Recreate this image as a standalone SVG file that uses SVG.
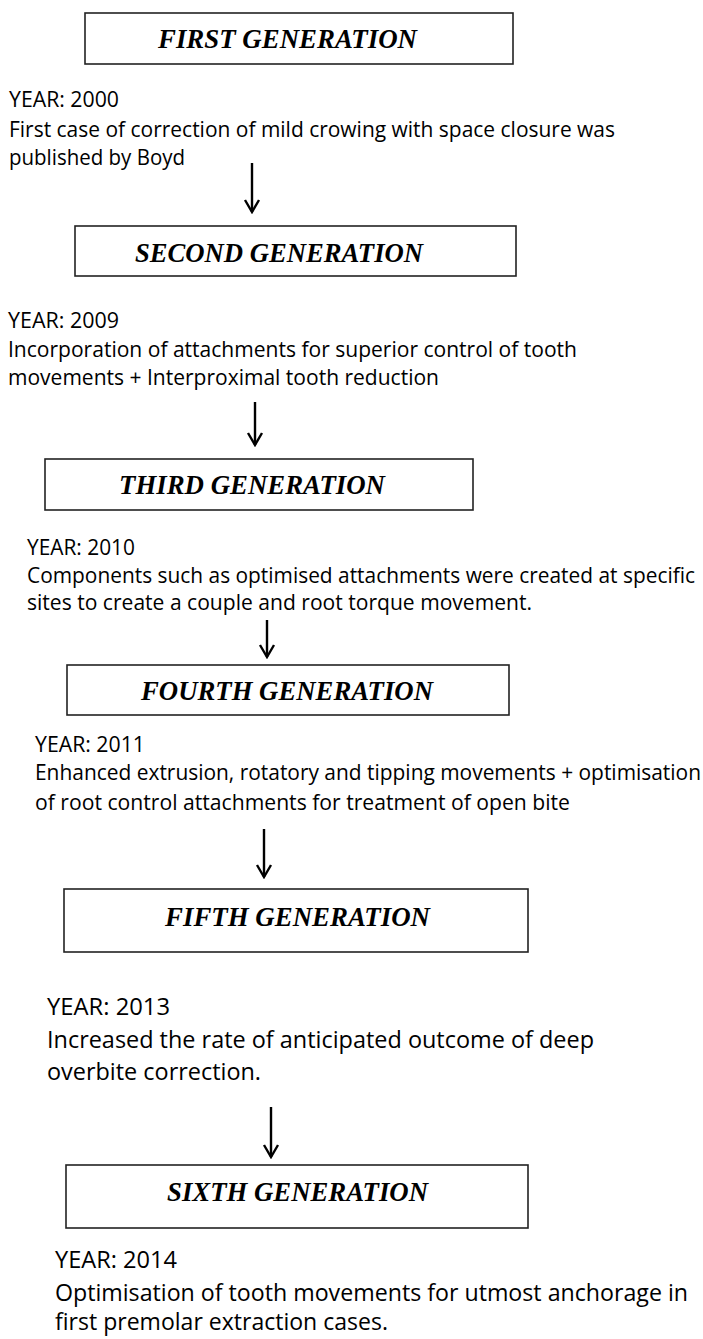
<svg xmlns="http://www.w3.org/2000/svg" width="703" height="1339" viewBox="0 0 703 1339">
<style>
.box{fill:#fff;stroke:#222;stroke-width:1.6}
.title{font-family:"Liberation Serif","Times New Roman",serif;font-weight:bold;font-style:italic;font-size:27px;fill:#000}
.body{font-family:"Open Sans","Noto Sans",sans-serif;font-size:21px;fill:#000}
.body2{font-family:"Open Sans","Noto Sans",sans-serif;font-size:23px;fill:#000}
.conn{stroke:#000;stroke-width:2.4;fill:none}
</style>
<defs>
<marker id="arr" viewBox="-2 -2 16 18" refX="12" refY="7" markerWidth="16" markerHeight="18" markerUnits="userSpaceOnUse" orient="auto">
<path d="M0,0 L12,7 L0,14" fill="none" stroke="#000" stroke-width="2.4"/>
</marker>
</defs>
<rect width="703" height="1339" fill="#fff"/>

<g id="gen1">
<rect class="box" x="85" y="13" width="428" height="51"/>
<text class="title" x="158" y="48" textLength="259" lengthAdjust="spacingAndGlyphs">FIRST GENERATION</text>
</g>
<g id="desc1">
<text class="body" x="9" y="107" textLength="110" lengthAdjust="spacingAndGlyphs">YEAR: 2000</text>
<text class="body" x="9" y="137" textLength="606" lengthAdjust="spacingAndGlyphs">First case of correction of mild crowing with space closure was</text>
<text class="body" x="9" y="165" textLength="176" lengthAdjust="spacingAndGlyphs">published by Boyd</text>
</g>

<g id="gen2">
<rect class="box" x="75" y="226" width="441" height="50"/>
<text class="title" x="135" y="262" textLength="288" lengthAdjust="spacingAndGlyphs">SECOND GENERATION</text>
</g>
<g id="desc2">
<text class="body" x="8" y="328" textLength="111" lengthAdjust="spacingAndGlyphs">YEAR: 2009</text>
<text class="body" x="8" y="357" textLength="569" lengthAdjust="spacingAndGlyphs">Incorporation of attachments for superior control of tooth</text>
<text class="body" x="8" y="385" textLength="431" lengthAdjust="spacingAndGlyphs">movements + Interproximal tooth reduction</text>
</g>

<g id="gen3">
<rect class="box" x="45" y="459" width="428" height="51"/>
<text class="title" x="119" y="494" textLength="266" lengthAdjust="spacingAndGlyphs">THIRD GENERATION</text>
</g>
<g id="desc3">
<text class="body" x="27" y="555" textLength="108" lengthAdjust="spacingAndGlyphs">YEAR: 2010</text>
<text class="body" x="27" y="583" textLength="668" lengthAdjust="spacingAndGlyphs">Components such as optimised attachments were created at specific</text>
<text class="body" x="27" y="610" textLength="505" lengthAdjust="spacingAndGlyphs">sites to create a couple and root torque movement.</text>
</g>

<g id="gen4">
<rect class="box" x="67" y="665" width="442" height="50"/>
<text class="title" x="141" y="700" textLength="292" lengthAdjust="spacingAndGlyphs">FOURTH GENERATION</text>
</g>
<g id="desc4">
<text class="body" x="35" y="752" textLength="110" lengthAdjust="spacingAndGlyphs">YEAR: 2011</text>
<text class="body" x="35" y="780" textLength="666" lengthAdjust="spacingAndGlyphs">Enhanced extrusion, rotatory and tipping movements + optimisation</text>
<text class="body" x="35" y="810" textLength="535" lengthAdjust="spacingAndGlyphs">of root control attachments for treatment of open bite</text>
</g>

<g id="gen5">
<rect class="box" x="64" y="889" width="464" height="63"/>
<text class="title" x="165" y="926" textLength="265" lengthAdjust="spacingAndGlyphs">FIFTH GENERATION</text>
</g>
<g id="desc5">
<text class="body2" x="47" y="1015" textLength="123" lengthAdjust="spacingAndGlyphs">YEAR: 2013</text>
<text class="body2" x="47" y="1048" textLength="547" lengthAdjust="spacingAndGlyphs">Increased the rate of anticipated outcome of deep</text>
<text class="body2" x="47" y="1080" textLength="214" lengthAdjust="spacingAndGlyphs">overbite correction.</text>
</g>

<g id="gen6">
<rect class="box" x="66" y="1165" width="462" height="63"/>
<text class="title" x="167" y="1201" textLength="261" lengthAdjust="spacingAndGlyphs">SIXTH GENERATION</text>
</g>
<g id="desc6">
<text class="body2" x="55" y="1268" textLength="122" lengthAdjust="spacingAndGlyphs">YEAR: 2014</text>
<text class="body2" x="55" y="1301" textLength="633" lengthAdjust="spacingAndGlyphs">Optimisation of tooth movements for utmost anchorage in</text>
<text class="body2" x="55" y="1330" textLength="333" lengthAdjust="spacingAndGlyphs">first premolar extraction cases.</text>
</g>

<g id="connectors">
<line class="conn" x1="252" y1="163" x2="252" y2="212" marker-end="url(#arr)"/>
<line class="conn" x1="255" y1="402" x2="255" y2="445" marker-end="url(#arr)"/>
<line class="conn" x1="267" y1="620" x2="267" y2="657" marker-end="url(#arr)"/>
<line class="conn" x1="264" y1="829" x2="264" y2="877" marker-end="url(#arr)"/>
<line class="conn" x1="271" y1="1107" x2="271" y2="1157" marker-end="url(#arr)"/>
</g>
</svg>
